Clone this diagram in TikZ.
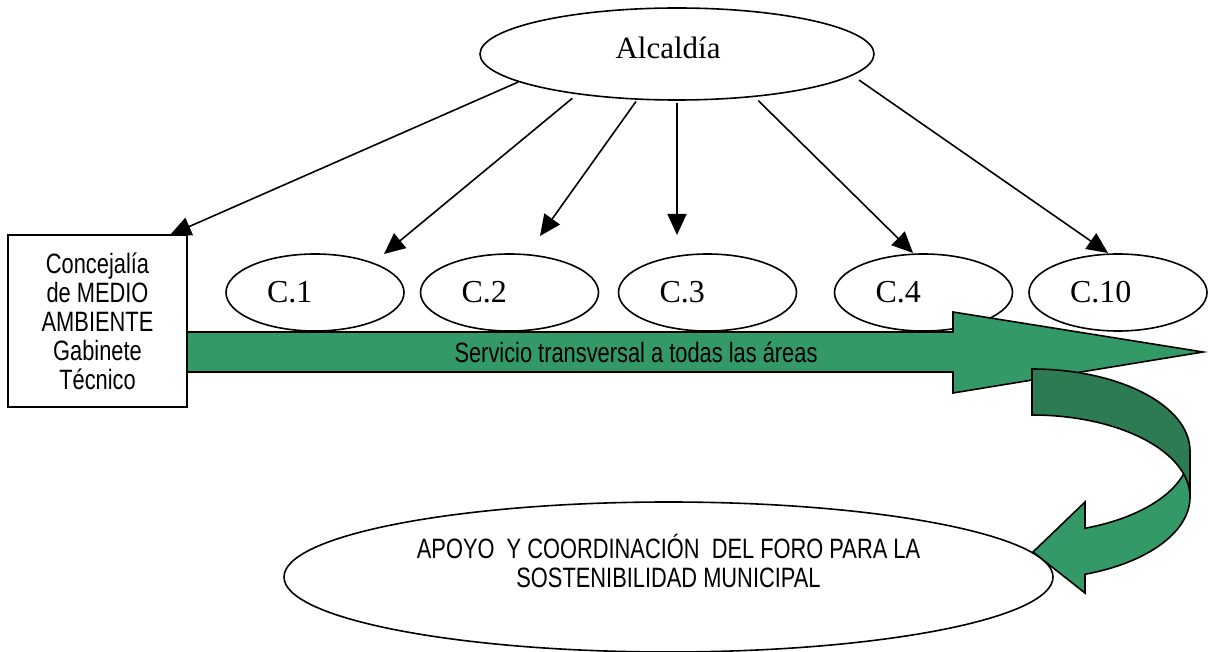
\documentclass[tikz,border=0pt]{standalone}
\usepackage{fontspec}
\setmainfont{Liberation Serif}
\newfontfamily\narrowsans[FakeStretch=0.78]{Liberation Sans}
\usetikzlibrary{shapes.geometric,arrows.meta}
\definecolor{seagreen}{RGB}{51,153,102}
\definecolor{backgreen}{RGB}{44,123,82}
\tikzset{
  conn/.style={line width=1.6pt,-{Triangle[length=21pt,width=19pt]}},
  oval/.style={ellipse,draw,line width=1.6pt,fill=white,inner sep=0pt},
  cnode/.style={oval,minimum width=178pt,minimum height=77pt,font=\fontsize{32}{36}\selectfont},
  sanstext/.style={font=\narrowsans\fontsize{28}{29}\selectfont},
  boxnode/.style={draw,line width=1.6pt,fill=white,minimum width=179pt,minimum height=172pt,inner sep=0pt,align=center,sanstext},
  greenshape/.style={line width=1.6pt,draw=black,fill=seagreen,line join=miter},
  backshape/.style={line width=1.6pt,draw=black,fill=backgreen}
}
\begin{document}
\begin{tikzpicture}[x=1pt,y=1pt]
\useasboundingbox (0,0) rectangle (1208,-652);

% top ellipse
\node[oval,minimum width=394pt,minimum height=92pt,font=\fontsize{31}{36}\selectfont] (alc) at (677,-54)
  {\makebox[0pt]{\raisebox{-4.5pt}[0pt][0pt]{Alcaldía}\hspace{18pt}}};

% C nodes
\node[cnode] (c1)  at (315,-292.5)   {\makebox[96pt][l]{C.1}};
\node[cnode] (c2)  at (509.5,-292.5) {\makebox[96pt][l]{C.2}};
\node[cnode] (c3)  at (707.5,-292.5) {\makebox[96pt][l]{C.3}};
\node[cnode] (c4)  at (923.5,-292.5) {\makebox[96pt][l]{C.4}};
\node[cnode] (c10) at (1118,-292.5)  {\makebox[96pt][l]{C.10}};

% box
\node[boxnode] (box) at (97.5,-321) {Concejalía\\de MEDIO\\AMBIENTE\\Gabinete\\Técnico};

% arrow tips
\coordinate (t1) at (170,-235);
\coordinate (t2) at (384,-254);
\coordinate (t3) at (540,-236);
\coordinate (t4) at (677,-235);
\coordinate (t5) at (913,-253);
\coordinate (t6) at (1108,-253);

\draw[conn] (alc.190) -- (t1);
\draw[conn,shorten <=6pt] (alc.202.4) -- (t2);
\draw[conn,shorten <=2pt] (alc.229.1) -- (t3);
\draw[conn,shorten <=2pt] (alc.270) -- (t4);
\draw[conn,shorten <=5pt] (alc.331.9) -- (t5);
\draw[conn,shorten <=8pt] (alc.353.7) -- (t6);

% transversal arrow
\draw[greenshape] (187,-332) -- (953,-332) -- (953,-312) -- (1203,-352) -- (953,-393) -- (953,-372) -- (187,-372) -- cycle;
\node[sanstext,inner sep=0pt] (serv) at (636,-352) {Servicio transversal a todas las áreas};

% bottom ellipse
\node[oval,minimum width=769pt,minimum height=150pt,sanstext] (foro) at (668.5,-577)
  {\raisebox{-10pt}[0pt][0pt]{\parbox[b]{520pt}{\centering APOYO\ \ Y COORDINACIÓN\ \ DEL FORO PARA LA\\SOSTENIBILIDAD MUNICIPAL}}};

% curved arrow: front (light) part
\draw[greenshape] (1190,-451)
  arc[start angle=0,end angle=-70.4,x radius=158,y radius=82]
  -- (1085,-502) -- (1033,-552) -- (1085,-593) -- (1085,-574.3)
  arc[start angle=-70.4,end angle=0,x radius=158,y radius=82]
  -- cycle;
% back (dark) part
\draw[backshape] (1032,-369)
  arc[start angle=90,end angle=0,x radius=158,y radius=82]
  -- (1190,-497)
  arc[start angle=0,end angle=90,x radius=158,y radius=82]
  -- cycle;
\end{tikzpicture}
\end{document}
